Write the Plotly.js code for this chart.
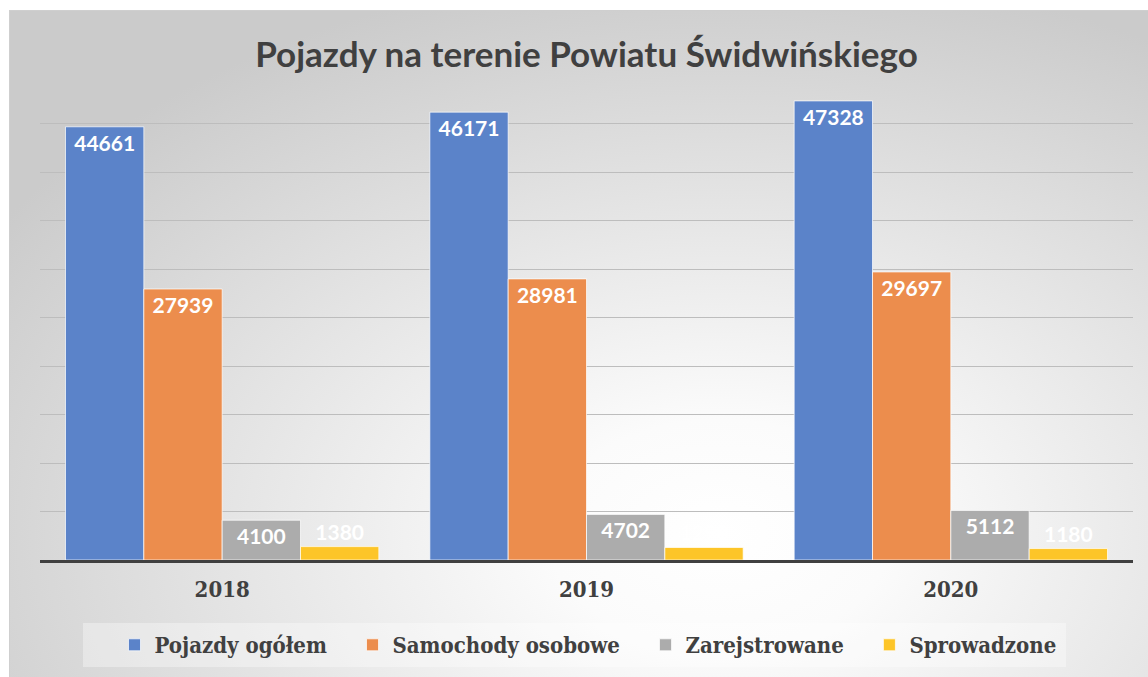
<!DOCTYPE html>
<html>
<head>
<meta charset="utf-8">
<script src="https://cdn.plot.ly/plotly-3.0.1.min.js"></script>
<style>
  html, body { margin:0; padding:0; background:#ffffff; width:1148px; height:677px; overflow:hidden; }
  #bg { position:absolute; left:9px; top:10px; width:1145px; height:670px;
        border:1px solid #cfcfcf;
        background: radial-gradient(ellipse 75% 85% at 62% 78%, #ffffff 0%, #fbfbfb 20%, #e6e6e6 55%, #cbcbcb 100%); }
  #legbox { position:absolute; left:83px; top:623px; width:983px; height:44px; background: rgba(255,255,255,0.35); }
  #chart { position:absolute; left:0; top:0; width:1148px; height:677px; }
</style>
</head>
<body>
<div id="bg"></div>
<div id="legbox"></div>
<div id="chart"></div>
<script>
const years = ['2018', '2019', '2020'];
const seriesNames = ['Pojazdy ogółem', 'Samochody osobowe', 'Zarejstrowane', 'Sprowadzone'];
const pojazdyOgolem = [44661, 46171, 47328];
const samochodyOsobowe = [27939, 28981, 29697];
const zarejestrowane = [4100, 4702, 5112];
const sprowadzone = [1380, 1290, 1180];
const colors = ['#5b83c9', '#ec8d4d', '#acacac', '#fdc528'];

const allValues = [pojazdyOgolem, samochodyOsobowe, zarejestrowane, sprowadzone];
const labelFont = {family: 'Lato, "Open Sans", sans-serif', size: 21, color: '#ffffff', weight: 'bold'};
const serifFont = '"DejaVu Serif Condensed", "DejaVu Serif", serif';
const pad = '\u00a0\u00a0\u00a0';

const traces = allValues.map((vals, i) => ({
  type: 'bar',
  name: i < 3 ? seriesNames[i] + pad : seriesNames[i],
  x: years,
  y: vals,
  text: vals.map(v => String(v)),
  textposition: i === 3 ? 'outside' : 'inside',
  insidetextanchor: 'end',
  textfont: labelFont,
  insidetextfont: labelFont,
  outsidetextfont: labelFont,
  constraintext: 'none',
  cliponaxis: false,
  marker: {color: colors[i], line: {color: 'rgba(255,255,255,0.7)', width: 1}},
  hoverinfo: 'x+y+name'
}));

const layout = {
  width: 1148, height: 677,
  paper_bgcolor: 'rgba(0,0,0,0)',
  plot_bgcolor: 'rgba(0,0,0,0)',
  margin: {l: 40, r: 15, t: 75, b: 117},
  barmode: 'group',
  bargap: 0.14,
  bargroupgap: 0,
  title: {
    text: 'Pojazdy na terenie Powiatu Świdwińskiego',
    font: {family: 'Lato, "Open Sans", sans-serif', size: 35, color: '#404040', weight: 'bold'},
    x: 0.5, xref: 'paper', xanchor: 'center',
    y: 1 - 55/677, yref: 'container', yanchor: 'middle'
  },
  xaxis: {
    type: 'category',
    showline: true, linecolor: '#404040', linewidth: 3,
    ticks: '', showgrid: false,
    tickfont: {family: serifFont, size: 22, color: '#404040', weight: 'bold'},
    ticklabelstandoff: 8
  },
  yaxis: {
    range: [0, 50000], dtick: 5000,
    showticklabels: false, ticks: '',
    showgrid: true, gridcolor: '#bdbdbd', gridwidth: 1,
    zeroline: false, showline: false, fixedrange: true
  },
  showlegend: true,
  legend: {
    orientation: 'h',
    x: 588/1148, xref: 'container', xanchor: 'center',
    y: 1 - 645/677, yref: 'container', yanchor: 'middle',
    bgcolor: 'rgba(0,0,0,0)',
    font: {family: serifFont, size: 22, color: '#404040', weight: 'bold'},
    traceorder: 'normal',
    itemwidth: 30
  }
};

Plotly.newPlot('chart', traces, layout, {displayModeBar: false, staticPlot: true});
</script>
</body>
</html>
